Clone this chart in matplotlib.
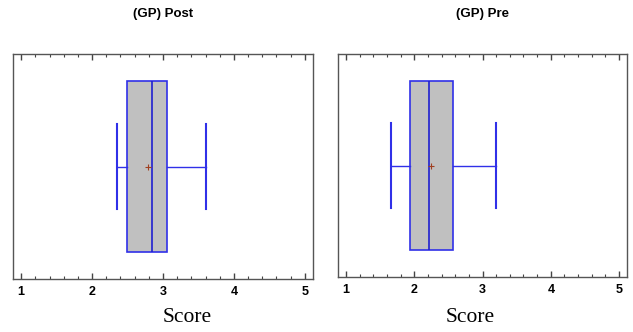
import numpy as np
import matplotlib.pyplot as plt
from matplotlib.ticker import MultipleLocator

# box summaries
titles = ['(GP) Post', '(GP) Pre']
whisk_lo = [2.35, 1.66]
q1 = [2.49, 1.94]
medians = [2.84, 2.21]
q3 = [3.05, 2.57]
whisk_hi = [3.60, 3.20]
means = [2.79, 2.25]
ticks = [1, 2, 3, 4, 5]

fig = plt.figure(figsize=(6.33, 3.32), dpi=100)
axes_pos = [[13/633, 1-279/332, 300/633, 225/332],
            [338/633, 1-277/332, 289/633, 223/332]]
score_x = [187/633, 470/633]

for i in range(2):
    ax = fig.add_axes(axes_pos[i])
    stats = [dict(whislo=whisk_lo[i], q1=q1[i], med=medians[i], q3=q3[i],
                  whishi=whisk_hi[i], mean=means[i], fliers=[])]
    ax.bxp(stats, positions=[0.5], widths=0.76, vert=False, patch_artist=True,
           showmeans=True, showfliers=False,
           boxprops=dict(facecolor='#c0c0c0', edgecolor='#3030e8', linewidth=1.2),
           medianprops=dict(color='#2020d0', linewidth=1.2),
           whiskerprops=dict(color='#3030e8', linewidth=1.0),
           capprops=dict(color='#3030e8', linewidth=1.5),
           capwidths=0.38,
           meanprops=dict(marker='+', markeredgecolor='#a04020', markersize=4,
                          markeredgewidth=0.8))
    ax.set_xlim(0.885, 5.115)
    ax.set_ylim(0, 1)
    ax.set_yticks([])
    ax.set_xticks(ticks)
    ax.xaxis.set_minor_locator(MultipleLocator(0.2))
    ax.tick_params(axis='x', which='both', direction='in', top=True, bottom=True,
                   color='#444444', labelsize=9, pad=5)
    ax.tick_params(axis='x', which='major', length=4, width=1)
    ax.tick_params(axis='x', which='minor', length=2, width=0.8)
    for lab in ax.get_xticklabels():
        lab.set_fontweight('bold')
        lab.set_family('Liberation Sans')
    for s in ax.spines.values():
        s.set_color('#555555')
        s.set_linewidth(1.0)
    cx = axes_pos[i][0] + axes_pos[i][2] / 2
    fig.text(cx, 1-14/332, titles[i], ha='center', va='center', fontsize=9.5,
             fontweight='bold', family='Liberation Sans')
    fig.text(score_x[i], 1-318/332, 'Score', ha='center', va='center',
             fontsize=15.5, family='Liberation Serif')

fig.savefig('out.png', dpi=100)
